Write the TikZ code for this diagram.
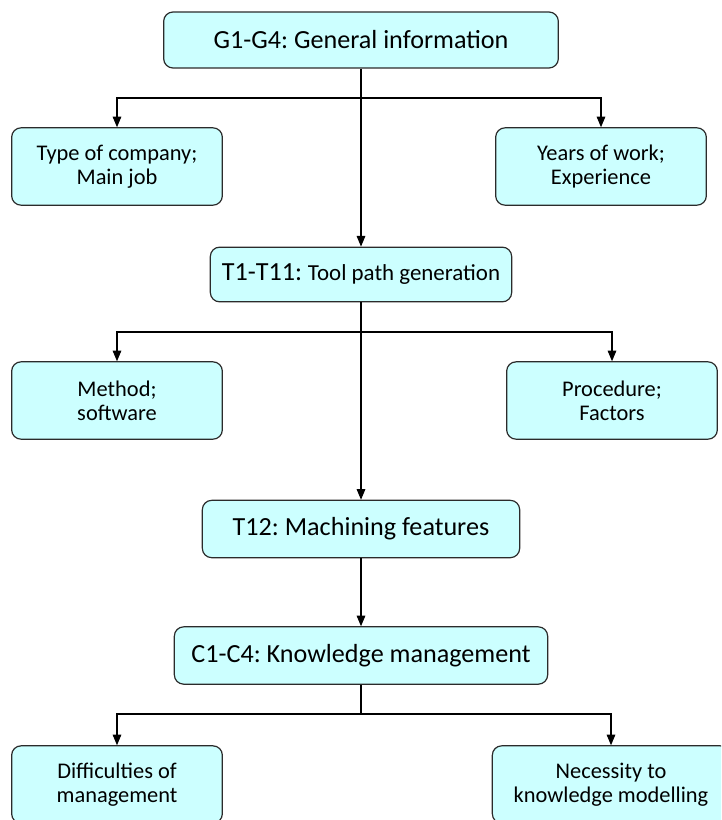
\documentclass[tikz,border=0pt]{standalone}
\usepackage{fontspec}
\setmainfont{Carlito}
\usetikzlibrary{arrows.meta}
\definecolor{boxcyan}{HTML}{CCFFFF}
\definecolor{boxline}{HTML}{2B2B2B}
\frenchspacing
\begin{document}
\begin{tikzpicture}
     [
     x=0.75pt, y=-0.75pt,
     mainbox/.style={rectangle, rounded corners=7pt, draw=boxline, fill=boxcyan, line width=0.9pt, align=center, inner sep=0pt, minimum height=42pt, font=\fontsize{19.6}{22}\selectfont},
     subbox/.style={rectangle, rounded corners=7pt, draw=boxline, fill=boxcyan, line width=0.9pt, align=center, inner sep=0pt, minimum width=158pt, minimum height=58pt, font=\fontsize{16.8}{18}\selectfont},
     link/.style={draw=black, line width=0.8pt},
     arrowlink/.style={link, -{Triangle[length=8pt,width=6.5pt]}},
     ]
 \useasboundingbox (0,0) rectangle (721,820);
 \clip (0,0) rectangle (721,820);
 \node at (361,40) [mainbox, minimum width=296pt] (general) {G1-G4: General information};
 \node at (117,166.5) [subbox] (company) {Type of company;\\ Main job};
 \node at (601,166.5) [subbox] (years) {Years of work;\\ Experience};
 \node at (361,274.5) [mainbox, minimum width=226pt, minimum height=41pt] (toolpath) {T1-T11: {\fontsize{17.2}{19}\selectfont Tool path generation}};
 \node at (117,400.5) [subbox] (method) {Method;\\ software};
 \node at (612,400.5) [subbox] (procedure) {Procedure;\\ Factors};
 \node at (361,529) [mainbox, minimum width=238pt, minimum height=43pt] (features) {T12: Machining features};
 \node at (361,655.5) [mainbox, minimum width=280pt, minimum height=43pt] (knowledge) {C1-C4: Knowledge management};
 \node at (117,784.5) [subbox] (difficulties) {Difficulties of\\ management};
 \node at (611,784.5) [subbox, minimum width=178pt] (necessity) {Necessity to\\ knowledge modelling};

 \coordinate (split1) at (361,98);
 \coordinate (split2) at (361,332);
 \coordinate (split3) at (361,714);

 \draw[arrowlink] (general.south) -- (toolpath.north);
 \draw[arrowlink] (split1) -| (company.north);
 \draw[arrowlink] (split1) -| (years.north);
 \draw[arrowlink] (toolpath.south) -- (features.north);
 \draw[arrowlink] (split2) -| (method.north);
 \draw[arrowlink] (split2) -| (procedure.north);
 \draw[arrowlink] (features.south) -- (knowledge.north);
 \draw[link] (knowledge.south) -- (split3);
 \draw[arrowlink] (split3) -| (difficulties.north);
 \draw[arrowlink] (split3) -| (necessity.north);
 \end{tikzpicture}
\end{document}
